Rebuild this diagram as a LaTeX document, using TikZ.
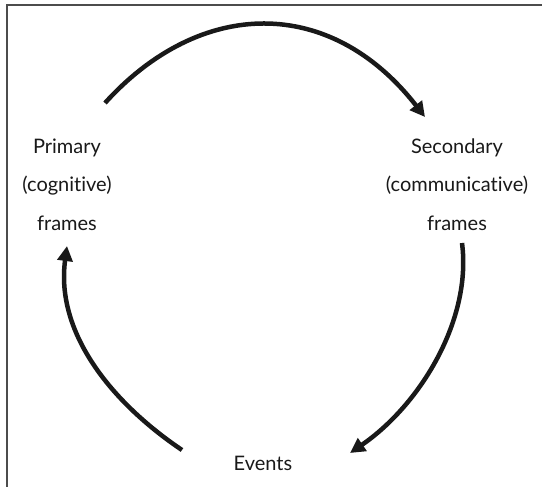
\documentclass[tikz,border=0pt]{standalone}
\usepackage{fontspec}
\setmainfont{Lato}[Ligatures={NoCommon,NoRare}]
\usetikzlibrary{arrows.meta}
\begin{document}
\begin{tikzpicture}[x=1pt,y=-1pt,
  lbl/.style={anchor=base,inner sep=0pt,font=\fontsize{20}{24}\selectfont,text=black!90},
  flow/.style={line width=4.5pt,draw=black!90,-{Triangle[length=15pt,width=15pt]}},
  frame/.style={line width=1.6pt,draw=black!70}]
\useasboundingbox (0,0) rectangle (542,487);
% frame (top and left edges only)
\coordinate (fbl) at (6.8,487);
\coordinate (ftl) at (6.8,4.8);
\coordinate (ftr) at (542,4.8);
\draw[frame] (fbl) -- (ftl) -- (ftr);
% labels
\node[lbl] (p1) at (67,154) {Primary};
\node[lbl] (p2) at (67,192) {(cognitive)};
\node[lbl] (p3) at (67,230) {frames};
\node[lbl] (s1) at (457,154) {Secondary};
\node[lbl] (s2) at (457,192) {(communicative)};
\node[lbl] (s3) at (457,230) {frames};
\node[lbl] (ev) at (263,470) {Events};
% arc end points
\coordinate (topA) at (105,103);
\coordinate (topB) at (425,117);
\coordinate (rgtA) at (462,243);
\coordinate (rgtB) at (350,453);
\coordinate (lftA) at (182,450);
\coordinate (lftB) at (67,246);
% connectors
\draw[flow] (topA) .. controls (200,-2) and (330,-5) .. (topB);
\draw[flow] (rgtA) .. controls (472,320) and (420,405) .. (rgtB);
\draw[flow] (lftA) .. controls (115,405) and (55,335) .. (lftB);
\end{tikzpicture}
\end{document}
